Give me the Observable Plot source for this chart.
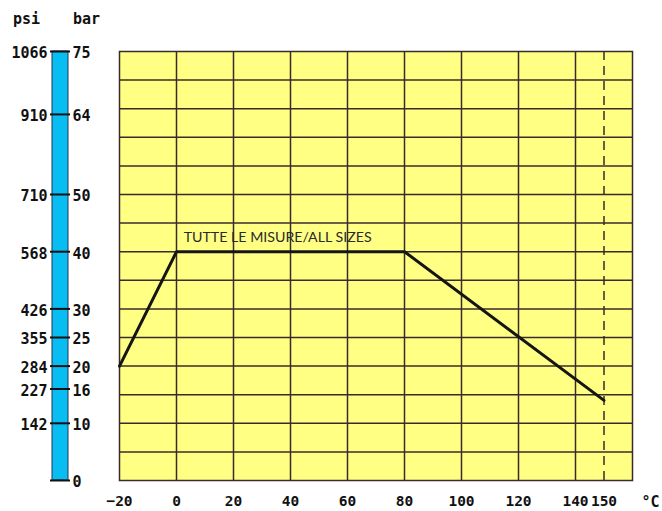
<!DOCTYPE html>
<html>
<head>
<meta charset="utf-8">
<script src="https://cdn.jsdelivr.net/npm/d3@7"></script>
<script src="https://cdn.jsdelivr.net/npm/@observablehq/plot@0.6"></script>
<style>
  html, body { margin: 0; padding: 0; background: #fff; }
  #wrap { position: relative; width: 662px; height: 511px; }
  #wrap > div, #wrap > svg { position: absolute; left: 0; top: 0; }
</style>
</head>
<body>
<div id="wrap"></div>
<script>
// Pressure/temperature curve (bar vs °C)
const tempC = [-20, 0, 80, 150];
const pressureBar = [20, 40, 40, 14];

// Temperature axis
const xTicks = [-20, 0, 20, 40, 60, 80, 100, 120, 140, 150];
const xGrid = [0, 20, 40, 60, 80, 100, 120, 140];
const maxTempLine = [150];
const yGrid = d3.range(5, 75, 5);

// Pressure scale bar labels
const barLabels = [75, 64, 50, 40, 30, 25, 20, 16, 10, 0];
const psiLabels = ["1066", "910", "710", "568", "426", "355", "284", "227", "142", ""];

const annotation = [{x: 2.5, y: 42.5, text: "TUTTE LE MISURE/ALL SIZES"}];

const curve = tempC.map((t, i) => ({t, p: pressureBar[i]}));
const scaleRows = barLabels.map((b, i) => ({k: "s", bar: b, psi: psiLabels[i]}));

const monoFont = "'DejaVu Sans Mono', 'Liberation Mono', monospace";
const gridColor = "#3a2b2b";

const main = Plot.plot({
  width: 662, height: 511,
  marginLeft: 119, marginRight: 30, marginTop: 51, marginBottom: 31,
  style: {fontFamily: monoFont, fontSize: "15px", fontWeight: "bold", color: "#111", background: "transparent"},
  x: {domain: [-20, 160], axis: null},
  y: {domain: [0, 75], axis: null},
  marks: [
    Plot.frame({fill: "#ffff84"}),
    Plot.gridX(xGrid, {stroke: gridColor, strokeOpacity: 1, strokeWidth: 1.5}),
    Plot.gridY(yGrid, {stroke: gridColor, strokeOpacity: 1, strokeWidth: 1.5}),
    Plot.ruleX(maxTempLine, {stroke: gridColor, strokeWidth: 1.5, strokeDasharray: "9,6"}),
    Plot.frame({stroke: gridColor, strokeWidth: 1.5}),
    Plot.line(curve, {x: "t", y: "p", stroke: "#151515", strokeWidth: 3}),
    Plot.text(annotation, {x: "x", y: "y", text: "text", textAnchor: "start",
      fontFamily: "Lato, 'Open Sans', sans-serif", fontWeight: "normal", fontSize: 14.2, fill: "#2a2a2a"}),
    Plot.axisX(xTicks, {tickSize: 0, tickPadding: 15, label: null, fontFamily: monoFont, fontWeight: "bold", fontSize: 14.5}),
    Plot.text(["°C"], {frameAnchor: "bottom-right", dx: 18, dy: 26, textAnchor: "middle",
      fontFamily: monoFont, fontWeight: "bold", fontSize: 15})
  ]
});

const scale = Plot.plot({
  width: 119, height: 511,
  marginLeft: 52, marginRight: 51, marginTop: 51, marginBottom: 31,
  style: {fontFamily: monoFont, fontSize: "15px", fontWeight: "bold", color: "#111", background: "transparent", overflow: "visible"},
  x: {domain: ["s"], padding: 0, axis: null},
  y: {domain: [0, 75], axis: null},
  marks: [
    Plot.barY([{k: "s", lo: 0, hi: 75}], {x: "k", y1: "lo", y2: "hi", fill: "#08bdf2", stroke: "#2a3550", strokeWidth: 1}),
    Plot.tickY(scaleRows, {x: "k", y: "bar", stroke: "#111", strokeWidth: 2, insetLeft: -2, insetRight: -2}),
    Plot.text(scaleRows, {x: "k", y: "bar", text: "psi", textAnchor: "end", dx: -13, dy: 2}),
    Plot.text(scaleRows, {x: "k", y: "bar", text: d => String(d.bar), textAnchor: "start", dx: 12, dy: 2}),
    Plot.text(["psi"], {x: () => "s", frameAnchor: "top", dx: -34, dy: -38}),
    Plot.text(["bar"], {x: () => "s", frameAnchor: "top", dx: 26, dy: -38})
  ]
});

const wrap = document.getElementById("wrap");
wrap.appendChild(main);
wrap.appendChild(scale);
</script>
</body>
</html>
